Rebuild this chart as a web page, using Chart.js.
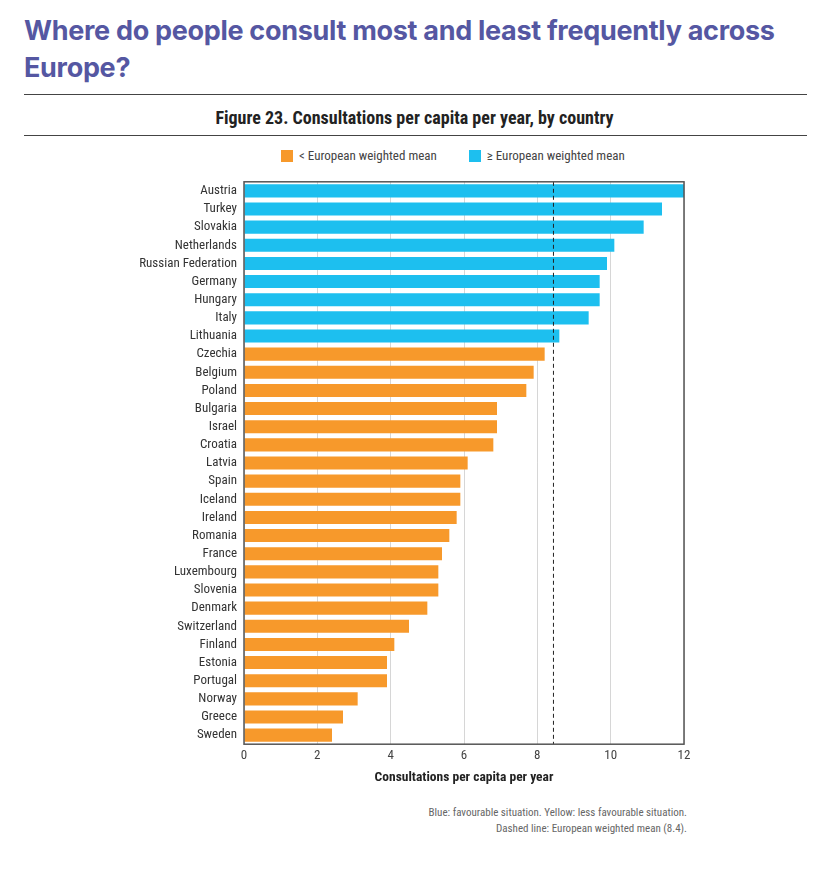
<!DOCTYPE html>
<html>
<head>
<meta charset="utf-8">
<script src="https://cdn.jsdelivr.net/npm/chart.js@4.4.1/dist/chart.umd.min.js"></script>
<style>
  body { margin: 0; background: #fff; width: 829px; height: 876px; position: relative; overflow: hidden; font-family: Roboto, sans-serif; font-stretch: condensed; }
  #title { position: absolute; left: 24px; top: 12px; width: 790px; font-family: Inter, "Liberation Sans", sans-serif; font-stretch: normal; font-weight: 700; font-size: 27px; line-height: 37px; color: #5557a2; letter-spacing: -0.3px; }
  .rule { position: absolute; left: 24px; width: 783px; height: 1px; background: #444; }
  #subtitle { position: absolute; left: 0; width: 829px; top: 107px; text-align: center; font-weight: 700; font-size: 18px; color: #222; }
  #legend { position: absolute; top: 148px; left: 281px; font-size: 13px; color: #444; display: flex; }
  #legend span.item { display: flex; align-items: center; margin-right: 32px; }
  #legend span.box { display: inline-block; width: 12px; height: 12px; margin-right: 6px; }
  #chartBox { position: absolute; left: 0; top: 167px; width: 829px; height: 625px; }
  #note { position: absolute; right: 142px; top: 805px; text-align: right; font-size: 11px; line-height: 16px; color: #666; }
</style>
</head>
<body>
<div id="title">Where do people consult most and least frequently across Europe?</div>
<div class="rule" style="top:94px"></div>
<div id="subtitle">Figure 23. Consultations per capita per year, by country</div>
<div class="rule" style="top:135px"></div>
<div id="legend"></div>
<div id="chartBox"><canvas id="chart"></canvas></div>
<div id="note">Blue: favourable situation. Yellow: less favourable situation.<br>Dashed line: European weighted mean (8.4).</div>
<script>
// Data
const countries = ['Austria', 'Turkey', 'Slovakia', 'Netherlands', 'Russian Federation', 'Germany', 'Hungary', 'Italy', 'Lithuania',
  'Czechia', 'Belgium', 'Poland', 'Bulgaria', 'Israel', 'Croatia', 'Latvia', 'Spain', 'Iceland', 'Ireland', 'Romania',
  'France', 'Luxembourg', 'Slovenia', 'Denmark', 'Switzerland', 'Finland', 'Estonia', 'Portugal', 'Norway', 'Greece', 'Sweden'];
const consultations = [12.0, 11.4, 10.9, 10.1, 9.9, 9.7, 9.7, 9.4, 8.6,
  8.2, 7.9, 7.7, 6.9, 6.9, 6.8, 6.1, 5.9, 5.9, 5.8, 5.6,
  5.4, 5.3, 5.3, 5.0, 4.5, 4.1, 3.9, 3.9, 3.1, 2.7, 2.4];
const europeanMean = 8.44;
const xTicks = [0, 2, 4, 6, 8, 10, 12];
const legendLabels = ['< European weighted mean', '\u2265 European weighted mean'];

const belowColor = '#f7992b';
const aboveColor = '#1dbfef';

// Legend
const legend = document.getElementById('legend');
[belowColor, aboveColor].forEach((c, i) => {
  const item = document.createElement('span');
  item.className = 'item';
  item.innerHTML = `<span class="box" style="background:${c}"></span>${legendLabels[i]}`;
  legend.appendChild(item);
});

// Dashed mean line + frame
const meanLine = {
  id: 'meanLine',
  afterDatasetsDraw(chart) {
    const { ctx, chartArea, scales } = chart;
    const x = scales.x.getPixelForValue(europeanMean);
    ctx.save();
    ctx.beginPath();
    ctx.setLineDash([4, 3]);
    ctx.strokeStyle = '#222';
    ctx.lineWidth = 1;
    ctx.moveTo(x, chartArea.top);
    ctx.lineTo(x, chartArea.bottom);
    ctx.stroke();
    ctx.setLineDash([]);
    ctx.strokeStyle = '#555';
    ctx.lineWidth = 1.5;
    ctx.strokeRect(chartArea.left, chartArea.top, chartArea.right - chartArea.left, chartArea.bottom - chartArea.top);
    ctx.restore();
  }
};

// condensed Roboto: stretch keyword goes in the weight slot of the font shorthand
const narrow = (size, bold) => ({ size: size, family: 'Roboto, sans-serif', weight: bold ? 'bold condensed' : 'condensed' });

new Chart(document.getElementById('chart'), {
  type: 'bar',
  data: {
    labels: countries,
    datasets: [{
      data: consultations,
      backgroundColor: consultations.map(v => v >= europeanMean ? aboveColor : belowColor),
      barPercentage: 0.72,
      categoryPercentage: 1
    }]
  },
  options: {
    indexAxis: 'y',
    responsive: true,
    maintainAspectRatio: false,
    animation: false,
    layout: { padding: { top: 12, right: 145, bottom: 2, left: 0 } },
    plugins: { legend: { display: false }, tooltip: { enabled: false } },
    scales: {
      x: {
        min: 0, max: 12,
        afterBuildTicks: s => { s.ticks = xTicks.map(v => ({ value: v })); },
        grid: { color: '#d6d6d6', lineWidth: 1, drawTicks: false },
        border: { display: false },
        ticks: { padding: 4, color: '#444', font: narrow(13) },
        title: {
          display: true,
          text: 'Consultations per capita per year',
          color: '#222',
          font: narrow(13.5, true),
          padding: { top: 2, bottom: 4 }
        }
      },
      y: {
        afterFit: s => { s.width = 244; },
        grid: { display: false, drawTicks: false },
        border: { display: false },
        ticks: { padding: 7, color: '#333', autoSkip: false, font: narrow(13) }
      }
    }
  },
  plugins: [meanLine]
});
</script>
</body>
</html>
